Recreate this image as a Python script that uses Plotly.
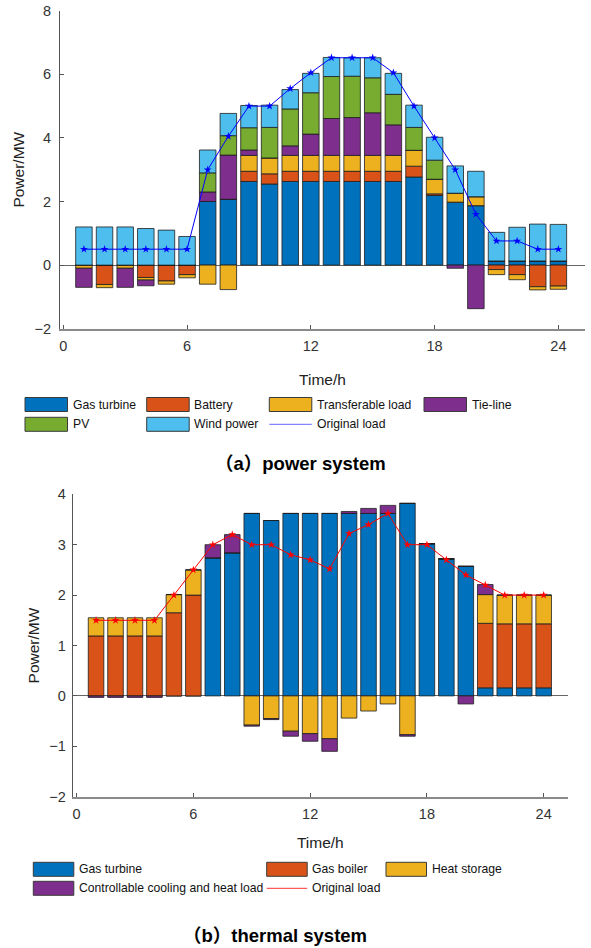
import plotly.graph_objects as go

# ---------------- data ----------------
hours = list(range(1, 25))
x_ticks = [0, 6, 12, 18, 24]

# (a) power system, MW
gas_turbine_e = [0, 0, 0, 0, 0, 0, 2.0, 2.07, 2.63, 2.55, 2.63, 2.63,
                 2.63, 2.63, 2.63, 2.63, 2.77, 2.19, 1.98, 1.87, 0.13, 0.13, 0.13, 0.13]
battery = [0, -0.61, 0, -0.39, -0.5, -0.3, 0, 0, 0.32, 0.32, 0.32, 0.32,
           0.32, 0.32, 0.32, 0.32, 0.34, 0.05, 0, 0, -0.14, -0.3, -0.68, -0.66]
transferable_load = [-0.1, -0.1, -0.1, -0.08, -0.1, -0.1, -0.6, -0.77, 0.5, 0.5, 0.5, 0.5,
                     0.5, 0.5, 0.5, 0.5, 0.5, 0.46, 0.28, 0.28, -0.16, -0.16, -0.1, -0.1]
tie_line = [-0.6, 0, -0.6, -0.18, 0, 0, 0.3, 1.39, 0.17, 0, 0.3, 0.67,
            1.16, 1.19, 1.34, 0.96, 0, 0, -0.1, -1.37, 0, 0, 0, 0]
pv = [0, 0, 0, 0, 0, 0, 0.6, 0.61, 0.7, 0.96, 1.16, 1.3,
      1.32, 1.3, 1.1, 0.96, 0.72, 0.6, 0, 0, 0, 0, 0, 0]
wind_power = [1.2, 1.2, 1.2, 1.15, 1.1, 0.9, 0.72, 0.7, 0.7, 0.7, 0.61, 0.61,
              0.6, 0.58, 0.63, 0.66, 0.7, 0.72, 0.86, 0.8, 0.9, 1.06, 1.16, 1.15]
original_load_e = [0.5, 0.5, 0.5, 0.5, 0.5, 0.5, 3.0, 4.05, 5.0, 5.0, 5.55, 6.05,
                   6.52, 6.52, 6.52, 6.05, 5.0, 4.0, 3.0, 1.6, 0.76, 0.76, 0.5, 0.5]

# (b) thermal system, MW
gas_turbine_t = [0, 0, 0, 0, 0, 0, 2.74, 2.84, 3.62, 3.48, 3.62, 3.62,
                 3.62, 3.62, 3.62, 3.62, 3.82, 3.02, 2.72, 2.57, 0.16, 0.16, 0.16, 0.16]
gas_boiler = [1.19, 1.19, 1.19, 1.19, 1.65, 2.0, 0, 0, 0, 0, 0, 0,
              0, 0, 0, 0, 0, 0, 0, 0, 1.28, 1.27, 1.27, 1.27]
heat_storage = [0.36, 0.36, 0.36, 0.36, 0.36, 0.5, 0, 0, -0.58, -0.45, -0.7, -0.75,
                -0.85, -0.44, -0.3, -0.16, -0.77, 0, 0, 0, 0.57, 0.57, 0.57, 0.57]
controllable_load = [-0.03, -0.03, -0.03, -0.03, 0, 0, 0.26, 0.36, -0.02, -0.02, -0.1, -0.15,
                     -0.25, 0.04, 0.1, 0.16, -0.03, 0, 0, -0.16, 0.2, 0, 0, 0]
original_load_t = [1.5, 1.5, 1.5, 1.5, 2.0, 2.5, 3.0, 3.2, 3.0, 3.0, 2.8, 2.7,
                   2.52, 3.22, 3.4, 3.62, 3.0, 3.0, 2.7, 2.4, 2.2, 2.0, 2.0, 2.0]

power_names = ["Gas turbine", "Battery", "Transferable load", "Tie-line", "PV", "Wind power"]
power_values = [gas_turbine_e, battery, transferable_load, tie_line, pv, wind_power]
power_colors = ["#0072BD", "#D95319", "#EDB120", "#7E2F8E", "#77AC30", "#4DBEEE"]

thermal_names = ["Gas turbine", "Gas boiler", "Heat storage", "Controllable cooling and heat load"]
thermal_values = [gas_turbine_t, gas_boiler, heat_storage, controllable_load]
thermal_colors = ["#0072BD", "#D95319", "#EDB120", "#7E2F8E"]

load_name = "Original load"

# ---------------- figure ----------------
W, H = 591, 948
FONT = "Liberation Sans, Arial, Noto Sans CJK SC, sans-serif"
EDGE = "#1e1e1e"
AX = "#555555"


def fx(p):
    return p / W


def fy(p):
    return 1 - p / H


fig = go.Figure()

for name, vals, col in zip(power_names, power_values, power_colors):
    fig.add_trace(go.Bar(x=hours, y=vals, name=name, width=0.8,
                         marker=dict(color=col, line=dict(color=EDGE, width=0.8)),
                         xaxis="x", yaxis="y", showlegend=False))
fig.add_trace(go.Scatter(x=hours, y=original_load_e, name=load_name, mode="lines+markers",
                         line=dict(color="#0000FF", width=1),
                         marker=dict(symbol="star", size=6, color="#0000FF"),
                         xaxis="x", yaxis="y", showlegend=False))

for name, vals, col in zip(thermal_names, thermal_values, thermal_colors):
    fig.add_trace(go.Bar(x=hours, y=vals, name=name, width=0.8,
                         marker=dict(color=col, line=dict(color=EDGE, width=0.8)),
                         xaxis="x2", yaxis="y2", showlegend=False))
fig.add_trace(go.Scatter(x=hours, y=original_load_t, name=load_name, mode="lines+markers",
                         line=dict(color="#FF0000", width=1),
                         marker=dict(symbol="star", size=6, color="#FF0000"),
                         xaxis="x2", yaxis="y2", showlegend=False))

axis_common = dict(showgrid=False, showline=True, ticks="inside", ticklen=4,
                   tickcolor=AX, tickfont=dict(family=FONT, size=14.5, color="#333333"),
                   ticklabeloverflow="allow", automargin=False)
title_font = dict(family=FONT, size=15.5, color="#222222")

fig.update_layout(
    width=W, height=H,
    margin=dict(l=0, r=0, t=0, b=0),
    paper_bgcolor="white", plot_bgcolor="white",
    barmode="relative",
    showlegend=False,
    font=dict(family=FONT, color="#222222"),
    xaxis=dict(domain=[fx(60), fx(585)], range=[-0.16, 25.29], anchor="y",
               tickvals=x_ticks, linecolor="#8a8a8a", linewidth=1.5, zeroline=False,
               ticklabelstandoff=3,
               title=dict(text="Time/h", font=title_font, standoff=21),
               **axis_common),
    yaxis=dict(domain=[fy(328.7), fy(10.7)], range=[-2, 8], anchor="x", dtick=2,
               linecolor=AX, linewidth=1, zeroline=True, zerolinecolor="#666666",
               zerolinewidth=1, ticklabelstandoff=5,
               title=dict(text="Power/MW", font=title_font, standoff=6),
               **axis_common),
    xaxis2=dict(domain=[fx(72.7), fx(568)], range=[-0.2, 25.25], anchor="y2",
                tickvals=x_ticks, linecolor="#8a8a8a", linewidth=1.5, zeroline=False,
                ticklabelstandoff=3,
                title=dict(text="Time/h", font=title_font, standoff=16),
                **axis_common),
    yaxis2=dict(domain=[fy(796.7), fy(494.3)], range=[-2, 4], anchor="x2", dtick=1,
                linecolor=AX, linewidth=1, zeroline=True, zerolinecolor="#666666",
                zerolinewidth=1, ticklabelstandoff=3,
                title=dict(text="Power/MW", font=title_font, standoff=5),
                **axis_common),
)

# ---------------- hand-drawn legends (MATLAB style, fixed columns) ----------------
shapes = []
annotations = []


def legend_block(entries, col_x, row_y, sw_w, sw_h=14, fs=12.2):
    ncol = len(col_x)
    for i, (label, kind, col) in enumerate(entries):
        x0 = col_x[i % ncol]
        yc = row_y[i // ncol]
        if kind == "bar":
            shapes.append(dict(type="rect", xref="paper", yref="paper",
                               x0=fx(x0), x1=fx(x0 + sw_w),
                               y0=fy(yc + sw_h / 2), y1=fy(yc - sw_h / 2),
                               fillcolor=col, line=dict(color="#3a3a3a", width=1)))
        else:
            shapes.append(dict(type="line", xref="paper", yref="paper",
                               x0=fx(x0), x1=fx(x0 + sw_w), y0=fy(yc), y1=fy(yc),
                               line=dict(color=col, width=1)))
        annotations.append(dict(text=label, xref="paper", yref="paper",
                                x=fx(x0 + sw_w + 3), y=fy(yc), xanchor="left",
                                yanchor="middle", showarrow=False,
                                font=dict(family=FONT, size=fs, color="#111111")))


legend_block([(n, "bar", c) for n, c in zip(power_names, power_colors)]
             + [(load_name, "line", "#6666FF")],
             col_x=[25, 146.7, 269.3, 424], row_y=[404.5, 424.3], sw_w=42.5)
legend_block([(n, "bar", c) for n, c in zip(thermal_names, thermal_colors)]
             + [(load_name, "line", "#FF3333")],
             col_x=[33.3, 266.7, 386], row_y=[869.3, 888.3], sw_w=40.5)

annotations.append(dict(text="（a）power system", xref="paper", yref="paper",
                        x=fx(213), y=fy(463), xanchor="left", yanchor="middle",
                        showarrow=False,
                        font=dict(family=FONT, size=18.5, color="#000000", weight="bold")))
annotations.append(dict(text="（b）thermal system", xref="paper", yref="paper",
                        x=fx(181), y=fy(935), xanchor="left", yanchor="middle",
                        showarrow=False,
                        font=dict(family=FONT, size=18.5, color="#000000", weight="bold")))

fig.update_layout(shapes=shapes, annotations=annotations)

# remove the browser's default 8px body margin so the figure sits at the window corner
fig.write_html("out.html", config={"displayModeBar": False},
               post_script="document.body.style.margin='0px';")
